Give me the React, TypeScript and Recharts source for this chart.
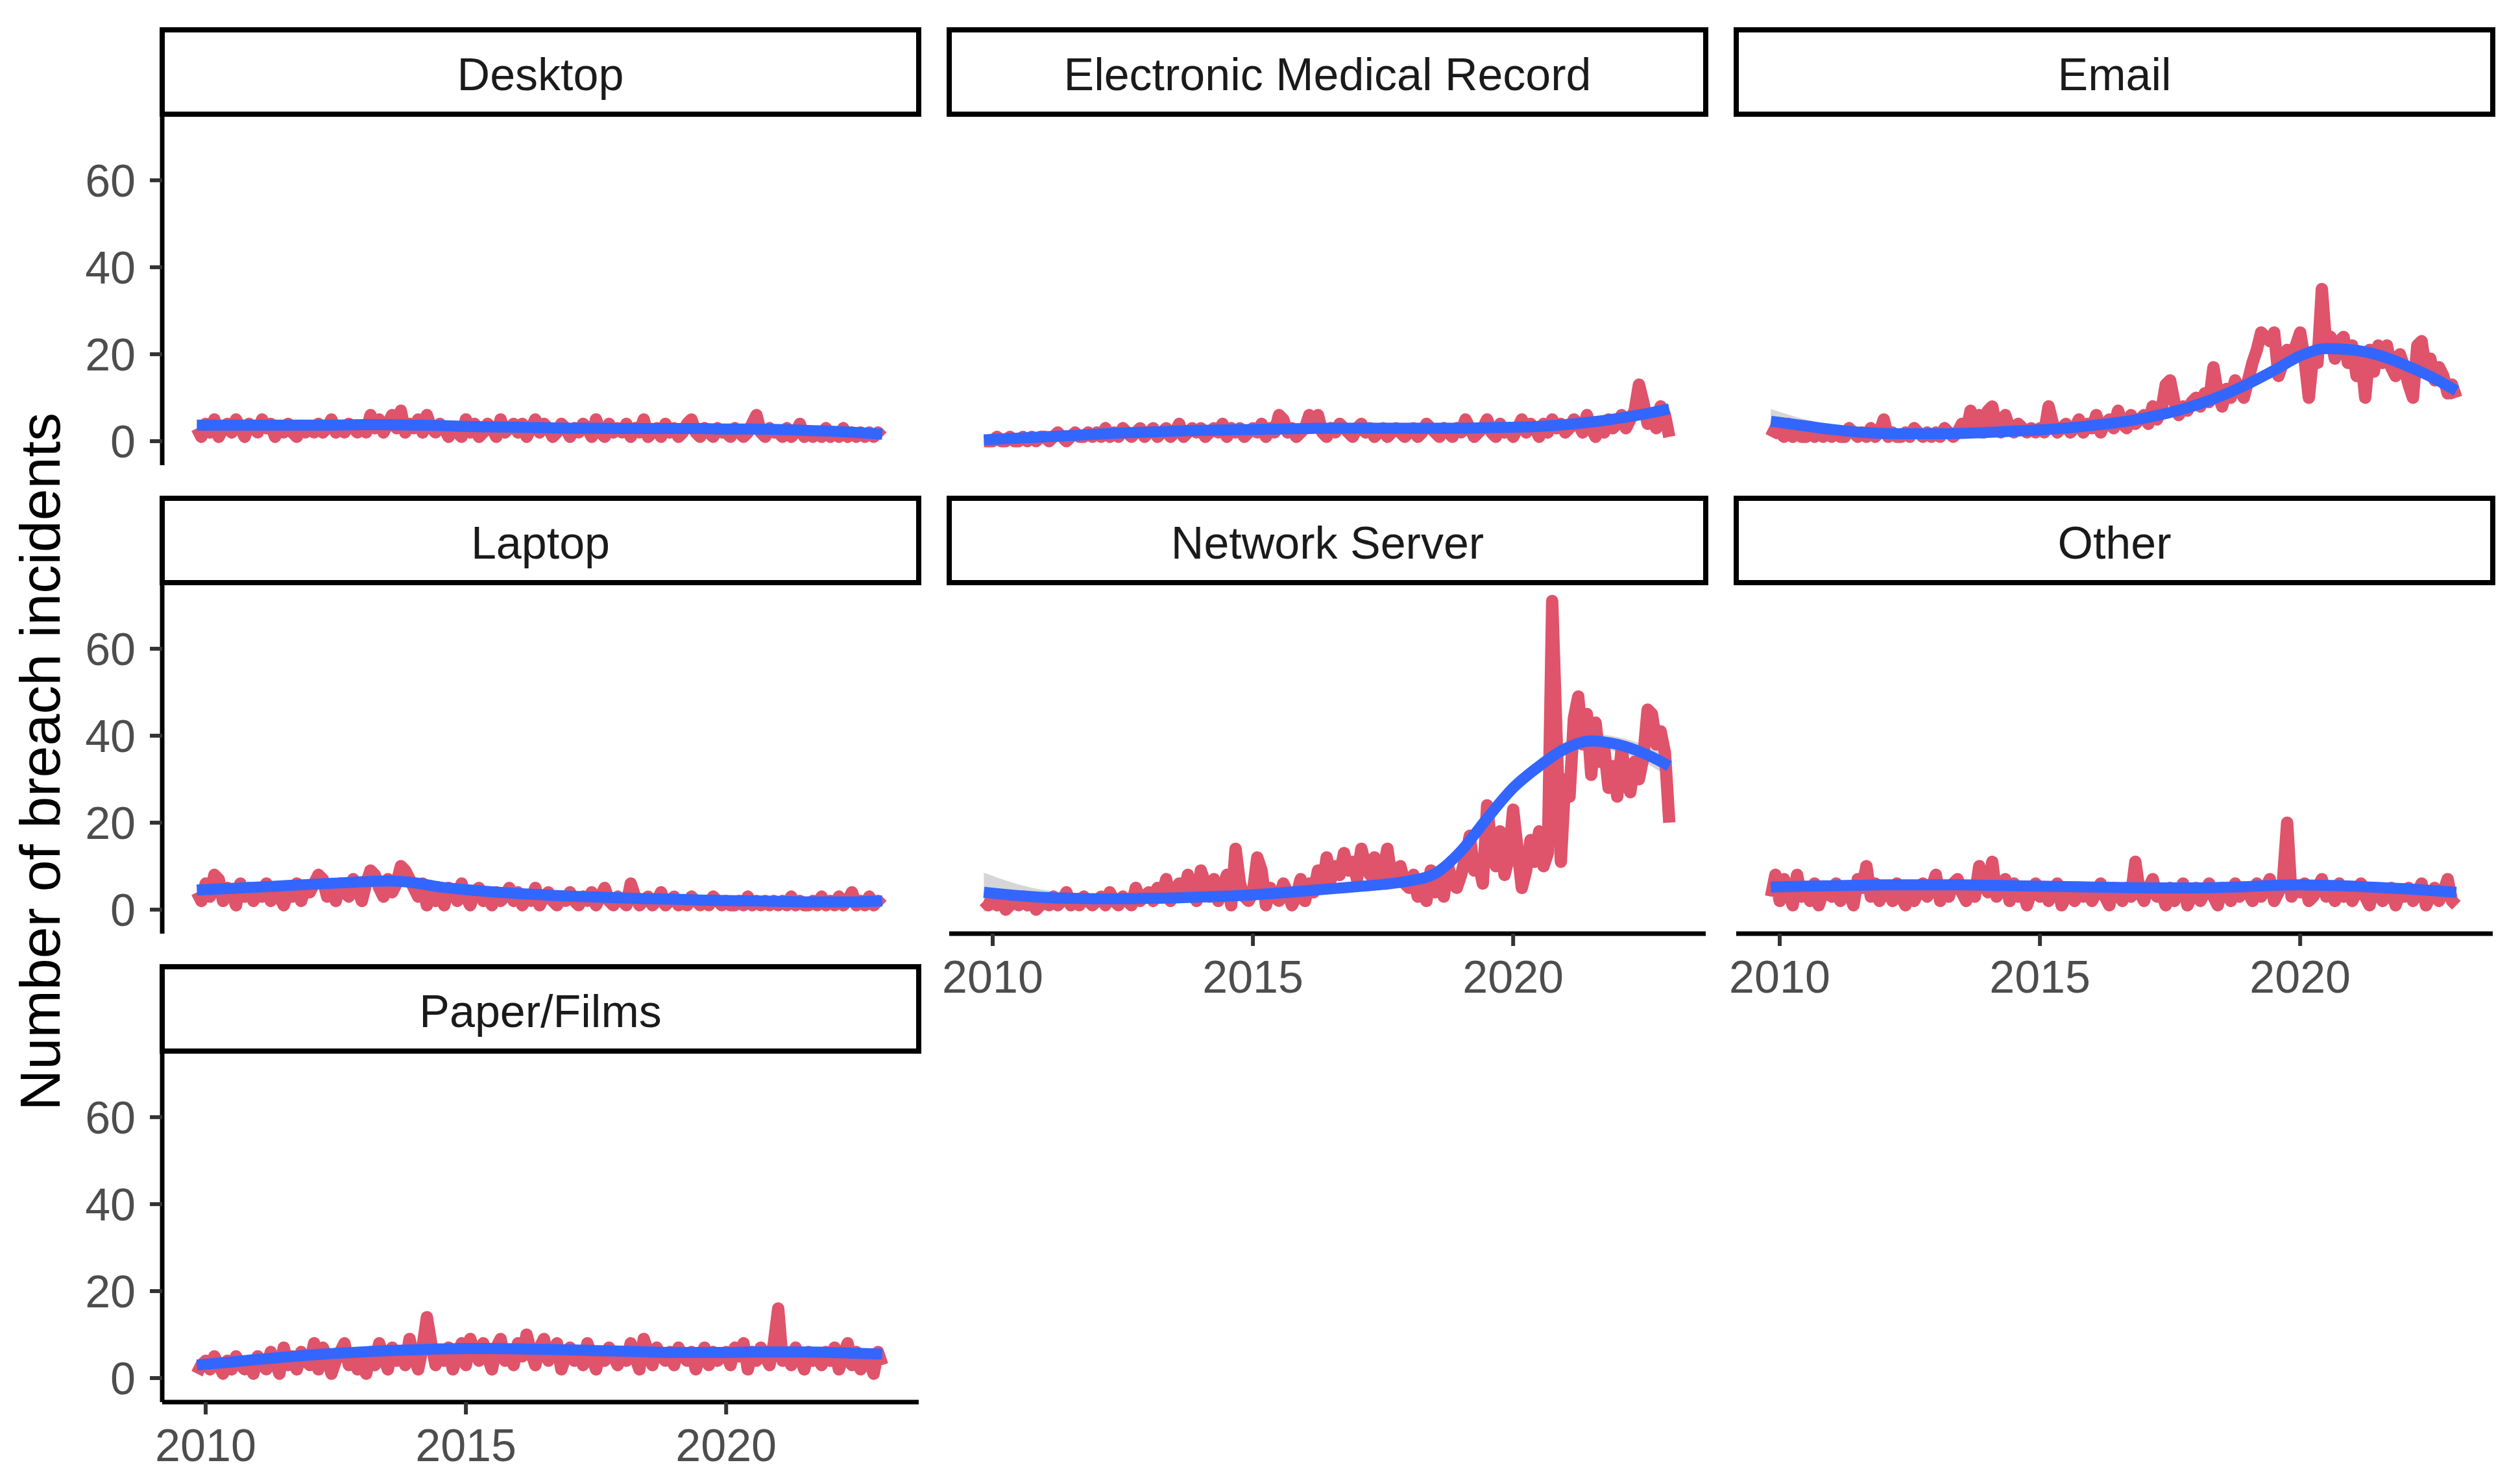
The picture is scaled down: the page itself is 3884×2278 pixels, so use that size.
import React from "react";
import { ComposedChart, Line, Area, XAxis, YAxis } from "recharts";

const FONT = '"Liberation Sans", Arial, Helvetica, sans-serif';

// monthly counts start in November 2009 and run to January 2023
const FIRST_MONTH = 2009 + 10 / 12;

const FACETS = [
  "Desktop",
  "Electronic Medical Record",
  "Email",
  "Laptop",
  "Network Server",
  "Other",
  "Paper/Films",
];

const X_TICKS = [2010, 2015, 2020];
const Y_TICKS = [0, 20, 40, 60];

// x positions of the loess fit
const SMOOTH_X = [
  2009.83, 2010.5, 2011, 2011.5, 2012, 2012.5, 2013, 2013.5, 2014, 2014.5, 2015, 2015.5, 2016, 2016.5,
  2017, 2017.5, 2018, 2018.5, 2019, 2019.5, 2020, 2020.5, 2021, 2021.5, 2022, 2022.5, 2023,
];

const desktopCounts = [
  3, 1,
  4, 2, 5, 1, 3, 4, 2, 5, 3, 1, 4, 3,
  2, 5, 3, 4, 1, 3, 2, 4, 2, 1, 3, 2,
  3, 2, 4, 2, 3, 5, 2, 3, 2, 4, 3, 2,
  3, 2, 6, 3, 5, 2, 4, 6, 3, 7, 2, 4,
  3, 5, 2, 6, 3, 2, 4, 3, 1, 3, 2, 1,
  5, 2, 4, 1, 2, 4, 3, 1, 5, 2, 3, 4,
  2, 4, 1, 3, 5, 2, 4, 3, 1, 2, 4, 3,
  1, 3, 2, 4, 3, 1, 5, 2, 1, 4, 2, 3,
  2, 4, 1, 3, 2, 5, 1, 2, 3, 1, 4, 2,
  3, 1, 2, 4, 5, 2, 1, 3, 2, 1, 3, 2,
  2, 1, 3, 2, 1, 2, 4, 6, 2, 1, 3, 2,
  2, 1, 3, 1, 2, 4, 1, 2, 1, 2, 1, 3,
  1, 2, 1, 3, 1, 2, 1, 2, 1, 2, 1, 2,
  1,
];
const desktopFit = [
  3.7, 3.7, 3.7, 3.7, 3.7, 3.7, 3.8, 3.8, 3.7, 3.6, 3.4, 3.3, 3.2, 3.1,
  3.0, 3.0, 2.9, 2.9, 2.9, 2.9, 2.8, 2.8, 2.7, 2.5, 2.3, 2.0, 1.6,
];

const emrCounts = [
  0, 0,
  0, 1, 0, 0, 1, 0, 0, 1, 0, 1, 0, 1,
  1, 0, 1, 2, 1, 0, 1, 2, 1, 1, 2, 1,
  2, 1, 3, 1, 2, 1, 3, 2, 1, 2, 3, 1,
  2, 3, 1, 2, 3, 1, 2, 4, 1, 2, 3, 2,
  3, 1, 2, 3, 2, 4, 1, 3, 2, 3, 1, 2,
  3, 2, 4, 1, 3, 2, 6, 5, 2, 3, 1, 2,
  3, 6, 5, 6, 2, 1, 3, 2, 4, 3, 2, 1,
  3, 4, 2, 3, 1, 2, 3, 1, 2, 3, 2, 1,
  2, 3, 1, 2, 4, 3, 2, 1, 3, 2, 1, 3,
  2, 5, 3, 1, 2, 3, 5, 2, 1, 4, 2, 3,
  1, 3, 5, 2, 4, 3, 1, 4, 2, 5, 3, 4,
  2, 3, 5, 4, 2, 6, 3, 1, 4, 2, 5, 3,
  4, 6, 3, 5, 7, 13, 9, 4, 5, 3, 8, 6,
  1,
];
const emrFit = [
  0.3, 0.7, 1.0, 1.3, 1.6, 1.9, 2.1, 2.3, 2.5, 2.6, 2.7, 2.8, 2.9, 3.0,
  3.0, 3.0, 3.0, 3.0, 3.0, 3.1, 3.2, 3.4, 3.8, 4.4, 5.2, 6.2, 7.4,
];

const emailCounts = [
  1, 3,
  2, 1, 4, 1, 2, 1, 1, 3, 1, 2, 1, 2,
  1, 2, 1, 1, 3, 2, 1, 2, 1, 3, 1, 2,
  5, 1, 2, 1, 1, 2, 1, 3, 2, 1, 2, 1,
  2, 1, 3, 2, 1, 2, 4, 2, 7, 3, 6, 2,
  7, 8, 3, 2, 6, 3, 2, 4, 3, 2, 3, 2,
  3, 2, 8, 4, 2, 3, 4, 2, 3, 5, 2, 4,
  3, 6, 2, 4, 5, 3, 7, 4, 3, 6, 4, 5,
  6, 4, 8, 5, 7, 13, 14, 9, 6, 8, 7, 9,
  10, 8, 11, 9, 17, 11, 8, 12, 10, 14, 12, 10,
  14, 18, 21, 25, 24, 23, 25, 15, 18, 21, 19, 22,
  25, 19, 10, 20, 18, 35, 22, 24, 19, 23, 24, 18,
  22, 15, 20, 10, 21, 16, 22, 18, 22, 17, 15, 20,
  17, 13, 10, 22, 23, 16, 19, 14, 17, 15, 11, 13,
  10,
];
const emailFit = [
  4.6, 3.5, 2.7, 2.1, 1.8, 1.7, 1.7, 1.8, 2.0, 2.3, 2.6, 3.0, 3.6, 4.3,
  5.3, 6.6, 8.3, 10.5, 13.2, 16.3, 19.6, 21.3, 21.0, 19.8, 17.6, 14.9, 11.6,
];
const emailBand = [
  2.8, 1.5, 1.0, 0.8, 0.7, 0.7, 0.7, 0.7, 0.7, 0.7, 0.7, 0.7, 0.7, 0.7,
  0.7, 0.8, 0.8, 0.8, 0.9, 0.9, 0.9, 0.9, 0.9, 0.9, 1.0, 1.2, 1.7,
];

const laptopCounts = [
  4, 2,
  6, 3, 8, 7, 2, 5, 4, 1, 6, 3, 5, 2,
  4, 3, 6, 2, 5, 3, 1, 4, 3, 6, 2, 5,
  4, 6, 8, 7, 3, 5, 2, 6, 4, 3, 7, 5,
  2, 6, 9, 8, 5, 3, 7, 4, 6, 10, 9, 7,
  5, 3, 6, 1, 4, 2, 3, 1, 5, 4, 2, 6,
  3, 1, 4, 5, 2, 3, 1, 4, 2, 3, 5, 2,
  4, 1, 3, 2, 5, 1, 3, 4, 2, 1, 3, 2,
  4, 2, 1, 3, 2, 4, 1, 3, 5, 2, 1, 3,
  2, 1, 6, 3, 1, 2, 3, 1, 2, 4, 1, 2,
  3, 1, 2, 1, 3, 2, 1, 2, 1, 3, 2, 1,
  2, 1, 1, 2, 1, 3, 1, 2, 1, 2, 1, 2,
  1, 2, 1, 3, 1, 2, 1, 1, 2, 1, 3, 1,
  2, 1, 3, 1, 2, 4, 1, 2, 1, 3, 1, 2,
  1,
];
const laptopFit = [
  4.5, 4.9, 5.2, 5.5, 5.8, 6.1, 6.4, 6.6, 6.2, 5.2, 4.6, 4.1, 3.7, 3.4,
  3.1, 2.9, 2.7, 2.5, 2.4, 2.2, 2.1, 2.0, 1.9, 1.8, 1.8, 1.8, 2.0,
];

const serverCounts = [
  2, 1,
  3, 1, 2, 0, 1, 2, 1, 3, 1, 2, 0, 1,
  2, 1, 3, 1, 2, 4, 1, 2, 1, 3, 2, 1,
  2, 3, 1, 4, 2, 1, 3, 2, 1, 5, 2, 3,
  4, 2, 5, 3, 7, 2, 4, 6, 3, 8, 4, 2,
  9, 6, 3, 7, 2, 5, 8, 1, 14, 6, 3, 2,
  4, 12, 9, 1, 5, 3, 2, 6, 4, 1, 3, 7,
  2, 6, 4, 9, 5, 12, 7, 10, 8, 13, 9, 11,
  7, 14, 10, 8, 12, 6, 9, 14, 7, 8, 10, 6,
  5, 8, 3, 6, 2, 9, 4, 7, 3, 10, 6, 5,
  8, 12, 17, 9, 11, 6, 24, 14, 10, 18, 8, 12,
  23, 14, 5, 9, 16, 11, 18, 10, 13, 71, 40, 11,
  30, 26, 44, 49, 38, 45, 31, 43, 34, 37, 28, 33,
  26, 37, 30, 27, 34, 30, 35, 46, 45, 38, 41, 36,
  20,
];
const serverFit = [
  4.0, 3.2, 2.8, 2.6, 2.5, 2.5, 2.6, 2.7, 2.9, 3.1, 3.4, 3.8, 4.3, 4.8,
  5.3, 5.8, 6.6, 8.3, 13.5, 21.0, 28.0, 33.0, 37.0, 38.8, 38.0, 36.0, 33.0,
];
const serverBand = [
  4.5, 2.6, 1.7, 1.3, 1.1, 1.0, 1.0, 1.0, 1.0, 1.0, 1.0, 1.0, 1.0, 1.0,
  1.0, 1.0, 1.1, 1.2, 1.3, 1.4, 1.5, 1.5, 1.6, 1.6, 1.7, 2.0, 2.6,
];

const otherCounts = [
  3, 8,
  2, 7, 4, 1, 8, 3, 5, 2, 6, 1, 4, 5,
  3, 6, 2, 5, 4, 1, 7, 5, 10, 3, 6, 2,
  4, 5, 2, 6, 3, 1, 5, 2, 4, 6, 3, 5,
  8, 2, 5, 3, 6, 7, 4, 2, 5, 3, 10, 6,
  4, 11, 3, 5, 7, 2, 6, 3, 5, 1, 4, 6,
  3, 5, 2, 4, 6, 1, 3, 5, 2, 4, 3, 5,
  2, 4, 6, 3, 1, 5, 4, 2, 5, 3, 11, 4,
  2, 5, 7, 3, 4, 1, 5, 2, 4, 6, 1, 3,
  5, 2, 4, 6, 3, 1, 5, 4, 2, 6, 3, 5,
  4, 2, 6, 3, 5, 7, 2, 4, 6, 20, 3, 5,
  4, 6, 2, 3, 5, 7, 3, 4, 2, 6, 3, 5,
  2, 4, 6, 3, 1, 5, 4, 2, 3, 5, 1, 4,
  3, 5, 2, 4, 6, 1, 3, 5, 2, 4, 7, 2,
  1,
];
const otherFit = [
  5.2, 5.4, 5.5, 5.6, 5.7, 5.7, 5.7, 5.7, 5.6, 5.5, 5.4, 5.3, 5.2, 5.1,
  5.0, 5.0, 5.0, 5.1, 5.3, 5.6, 5.7, 5.6, 5.4, 5.1, 4.8, 4.4, 4.0,
];

const paperCounts = [
  1, 3,
  4, 2, 5, 3, 1, 4, 2, 5, 3, 2, 4, 1,
  5, 3, 2, 6, 4, 1, 7, 3, 5, 2, 6, 4,
  3, 8, 2, 7, 5, 1, 4, 6, 8, 3, 5, 2,
  4, 1, 6, 3, 8, 5, 2, 7, 4, 6, 3, 9,
  5, 2, 7, 14, 8, 3, 6, 4, 7, 2, 5, 8,
  3, 9, 6, 4, 8, 5, 2, 7, 9, 4, 6, 3,
  8, 5, 10, 6, 3, 7, 9, 4, 6, 8, 2, 5,
  7, 4, 6, 3, 8, 5, 2, 6, 4, 7, 5, 3,
  6, 4, 8, 5, 2, 9, 6, 3, 7, 5, 4, 6,
  3, 7, 5, 4, 6, 2, 5, 7, 3, 6, 4, 5,
  6, 3, 7, 5, 8, 2, 6, 4, 7, 5, 3, 8,
  16, 4, 6, 3, 7, 5, 2, 6, 4, 5, 3, 6,
  4, 7, 2, 5, 8, 3, 6, 2, 5, 4, 1, 6,
  3,
];
const paperFit = [
  3.0, 3.7, 4.3, 4.8, 5.3, 5.7, 6.0, 6.3, 6.5, 6.7, 6.8, 6.8, 6.7, 6.6,
  6.5, 6.3, 6.2, 6.0, 5.9, 5.9, 5.9, 6.0, 6.0, 6.0, 5.9, 5.7, 5.5,
];

const COUNTS = [desktopCounts, emrCounts, emailCounts, laptopCounts, serverCounts, otherCounts, paperCounts];
const FITS = [desktopFit, emrFit, emailFit, laptopFit, serverFit, otherFit, paperFit];
const BANDS = [null, null, emailBand, null, serverBand, null, null];

// page layout (pixels)
const PANEL_W = 1166;
const PANEL_H = 541;
const STRIP_H = 130;
const COL_X = [250, 1463, 2676];
const ROW_Y = [46, 768, 1490];
const AXIS_W = 150;
const AXIS_H = 130;
const X_DOMAIN = [2009.165, 2023.7];
const Y_DOMAIN = [-5.52, 75.2];

const RED = "#DF536B";
const BLUE = "#3366FF";

function buildRows(counts: number[], fit: number[], band: number[] | null) {
  const rows: any[] = counts.map((c, i) => ({ x: FIRST_MONTH + i / 12, count: c }));
  SMOOTH_X.forEach((x, i) => {
    rows.push({
      x,
      fit: fit[i],
      band: band ? [fit[i] - band[i], fit[i] + band[i]] : undefined,
    });
  });
  return rows.sort((a, b) => a.x - b.x);
}

const tickStyle = { fill: "#4D4D4D", fontSize: 70, fontFamily: FONT };

function Panel({ index }: { index: number }) {
  const row = Math.floor(index / 3);
  const col = index % 3;
  const showY = col === 0;
  const showX = row === 2 || (row === 1 && col > 0);
  const rows = buildRows(COUNTS[index], FITS[index], BANDS[index]);

  return (
    <>
      <div
        style={{
          position: "absolute",
          left: COL_X[col] - AXIS_W,
          top: ROW_Y[row] + STRIP_H,
        }}
      >
        <ComposedChart
          width={AXIS_W + PANEL_W}
          height={PANEL_H + AXIS_H}
          data={rows}
          margin={{ top: 0, right: 0, left: showY ? 0 : AXIS_W, bottom: showX ? 0 : AXIS_H }}
        >
          <XAxis
            type="number"
            dataKey="x"
            domain={X_DOMAIN}
            ticks={X_TICKS}
            interval={0}
            hide={!showX}
            height={AXIS_H}
            axisLine={{ stroke: "#000", strokeWidth: 7 }}
            tickLine={{ stroke: "#333", strokeWidth: 6 }}
            tickSize={19}
            tickMargin={22}
            tick={tickStyle}
          />
          <YAxis
            type="number"
            domain={Y_DOMAIN}
            ticks={Y_TICKS}
            interval={0}
            hide={!showY}
            width={AXIS_W}
            axisLine={{ stroke: "#000", strokeWidth: 7 }}
            tickLine={{ stroke: "#333", strokeWidth: 6 }}
            tickSize={19}
            tickMargin={22}
            tick={tickStyle}
          />
          <Line
            type="linear"
            dataKey="count"
            stroke={RED}
            strokeWidth={19}
            strokeLinejoin="round"
            dot={false}
            activeDot={false}
            connectNulls
            isAnimationActive={false}
          />
          {BANDS[index] && (
            <Area
              type="monotone"
              dataKey="band"
              stroke="none"
              fill="#999999"
              fillOpacity={0.4}
              connectNulls
              isAnimationActive={false}
            />
          )}
          <Line
            type="monotone"
            dataKey="fit"
            stroke={BLUE}
            strokeWidth={17}
            dot={false}
            activeDot={false}
            connectNulls
            isAnimationActive={false}
          />
        </ComposedChart>
      </div>
      <div
        style={{
          position: "absolute",
          left: COL_X[col] - 4,
          top: ROW_Y[row] - 4,
          width: PANEL_W + 8,
          height: STRIP_H + 8,
          boxSizing: "border-box",
          border: "8px solid #000",
          background: "#fff",
          display: "flex",
          alignItems: "center",
          justifyContent: "center",
          paddingTop: 8,
          fontFamily: FONT,
          fontSize: 70,
          color: "#1A1A1A",
        }}
      >
        {FACETS[index]}
      </div>
    </>
  );
}

export default function App() {
  return (
    <div
      style={{
        position: "absolute",
        left: 0,
        top: 0,
        width: 3884,
        height: 2278,
        background: "#fff",
        overflow: "hidden",
      }}
    >
      {FACETS.map((_, i) => (
        <Panel key={i} index={i} />
      ))}
      <div
        style={{
          position: "absolute",
          left: 62,
          top: 1174,
          transform: "translate(-50%, -50%) rotate(-90deg)",
          whiteSpace: "nowrap",
          fontFamily: FONT,
          fontSize: 88,
          color: "#000",
        }}
      >
        Number of breach incidents
      </div>
    </div>
  );
}
